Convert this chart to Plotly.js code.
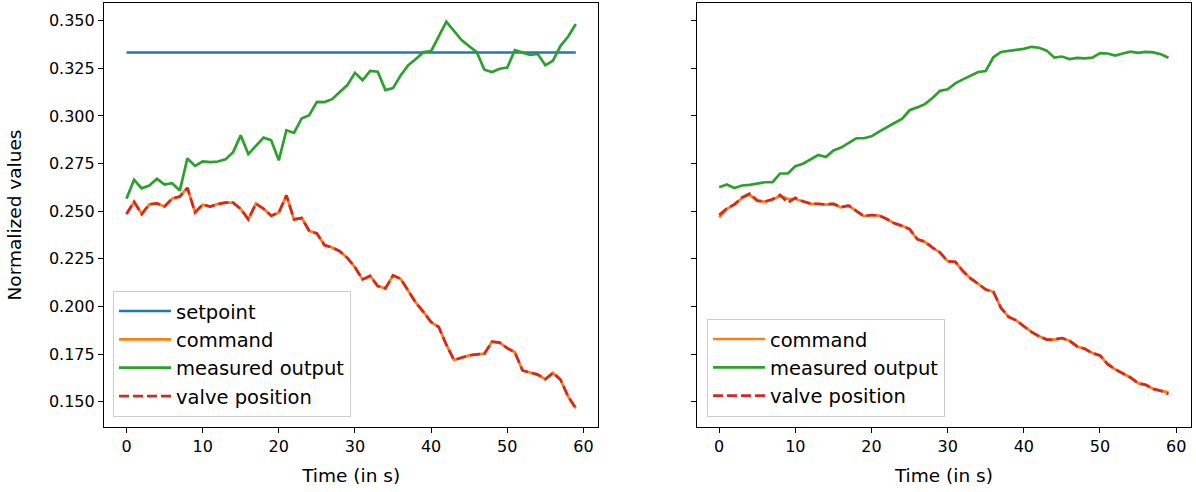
<!DOCTYPE html>
<html>
<head>
<meta charset="utf-8">
<script src="https://cdn.plot.ly/plotly-3.0.1.min.js"></script>
<style>html,body{margin:0;padding:0;background:#fff;}#chart{width:1196px;height:492px;}</style>
</head>
<body>
<div id="chart"></div>
<script>
const time = [0,1,2,3,4,5,6,7,8,9,10,11,12,13,14,15,16,17,18,19,20,21,22,23,24,25,26,27,28,29,30,31,32,33,34,35,36,37,38,39,40,41,42,43,44,45,46,47,48,49,50,51,52,53,54,55,56,57,58,59];

const setpointTime = [0, 59];
const setpointLeft = [0.3333, 0.3333];

const measuredLeft = [0.2566,0.2665,0.2620,0.2635,0.2670,0.2640,0.2647,0.2608,0.2777,0.2738,
  0.2761,0.2758,0.2761,0.2772,0.2810,0.2898,0.2800,0.2844,0.2886,0.2872,
  0.2767,0.2925,0.2911,0.2987,0.3004,0.3074,0.3073,0.3088,0.3123,0.3162,
  0.3226,0.3187,0.3236,0.3232,0.3136,0.3146,0.3213,0.3266,0.3299,0.3335,
  0.3340,0.3417,0.3495,0.3447,0.3398,0.3366,0.3335,0.3243,0.3231,0.3248,
  0.3254,0.3345,0.3335,0.3321,0.3326,0.3266,0.3290,0.3368,0.3417,0.3483];

const commandLeft = [0.2485,0.2549,0.2485,0.2536,0.2541,0.2525,0.2566,0.2577,0.2622,0.2494,
  0.2534,0.2524,0.2538,0.2545,0.2545,0.2512,0.2457,0.2540,0.2513,0.2476,
  0.2492,0.2583,0.2457,0.2464,0.2397,0.2383,0.2322,0.2309,0.2290,0.2255,
  0.2206,0.2142,0.2160,0.2107,0.2095,0.2163,0.2145,0.2081,0.2019,0.1971,
  0.1918,0.1892,0.1799,0.1719,0.1733,0.1743,0.1748,0.1752,0.1815,0.1810,
  0.1781,0.1759,0.1664,0.1653,0.1642,0.1618,0.1651,0.1615,0.1526,0.1465];

const valveLeft = [0.2485,0.2549,0.2485,0.2536,0.2541,0.2525,0.2566,0.2577,0.2622,0.2494,
  0.2534,0.2524,0.2538,0.2545,0.2545,0.2512,0.2457,0.2540,0.2513,0.2476,
  0.2492,0.2583,0.2457,0.2464,0.2397,0.2383,0.2322,0.2309,0.2290,0.2255,
  0.2206,0.2142,0.2160,0.2107,0.2095,0.2163,0.2145,0.2081,0.2019,0.1971,
  0.1918,0.1892,0.1799,0.1719,0.1733,0.1743,0.1748,0.1752,0.1815,0.1810,
  0.1781,0.1759,0.1664,0.1653,0.1642,0.1618,0.1651,0.1615,0.1526,0.1465];

const measuredRight = [0.2626,0.2640,0.2622,0.2635,0.2638,0.2645,0.2652,0.2652,0.2698,0.2698,
  0.2736,0.2749,0.2772,0.2795,0.2784,0.2819,0.2834,0.2858,0.2883,0.2883,
  0.2893,0.2918,0.2942,0.2963,0.2984,0.3030,0.3045,0.3062,0.3094,0.3132,
  0.3140,0.3171,0.3192,0.3210,0.3231,0.3236,0.3308,0.3336,0.3342,0.3349,
  0.3352,0.3363,0.3358,0.3343,0.3306,0.3312,0.3299,0.3305,0.3302,0.3306,
  0.3330,0.3328,0.3317,0.3328,0.3338,0.3331,0.3336,0.3334,0.3324,0.3306];

const commandRight = [0.2467,0.2512,0.2534,0.2570,0.2587,0.2554,0.2550,0.2561,0.2580,0.2565,
  0.2564,0.2550,0.2538,0.2538,0.2534,0.2538,0.2520,0.2529,0.2503,0.2474,
  0.2480,0.2477,0.2459,0.2436,0.2423,0.2406,0.2353,0.2340,0.2309,0.2283,
  0.2237,0.2234,0.2186,0.2147,0.2119,0.2089,0.2077,0.1992,0.1945,0.1927,
  0.1896,0.1866,0.1843,0.1826,0.1826,0.1834,0.1820,0.1790,0.1778,0.1755,
  0.1743,0.1697,0.1670,0.1650,0.1627,0.1597,0.1588,0.1567,0.1556,0.1549];

const valveRight = [0.2480,0.2515,0.2536,0.2572,0.2592,0.2556,0.2550,0.2563,0.2585,0.2545,
  0.2570,0.2552,0.2540,0.2538,0.2536,0.2538,0.2522,0.2529,0.2503,0.2474,
  0.2480,0.2477,0.2459,0.2436,0.2423,0.2406,0.2353,0.2340,0.2309,0.2283,
  0.2237,0.2234,0.2186,0.2147,0.2119,0.2089,0.2077,0.1992,0.1945,0.1927,
  0.1896,0.1866,0.1843,0.1826,0.1826,0.1834,0.1820,0.1790,0.1778,0.1755,
  0.1743,0.1697,0.1670,0.1650,0.1627,0.1597,0.1588,0.1567,0.1556,0.1540];

const yTicks = [0.150,0.175,0.200,0.225,0.250,0.275,0.300,0.325,0.350];
const yTickText = ["0.150","0.175","0.200","0.225","0.250","0.275","0.300","0.325","0.350"];
const xTicks = [0,10,20,30,40,50,60];

const C = {blue:'#1f77b4', orange:'#ff7f0e', green:'#2ca02c', red:'#d62728'};
const LW = 2.7;
const DASH = '10px,4px';

const traces = [
  {x: setpointTime, y: setpointLeft, name:'setpoint', mode:'lines', line:{color:C.blue,width:LW}, xaxis:'x', yaxis:'y', legend:'legend'},
  {x: time, y: commandLeft, name:'command', mode:'lines', line:{color:C.orange,width:LW}, xaxis:'x', yaxis:'y', legend:'legend'},
  {x: time, y: measuredLeft, name:'measured output', mode:'lines', line:{color:C.green,width:LW}, xaxis:'x', yaxis:'y', legend:'legend'},
  {x: time, y: valveLeft, name:'valve position', mode:'lines', line:{color:C.red,width:LW,dash:DASH}, xaxis:'x', yaxis:'y', legend:'legend'},
  {x: time, y: commandRight, name:'command', mode:'lines', line:{color:C.orange,width:LW}, xaxis:'x2', yaxis:'y2', legend:'legend2'},
  {x: time, y: measuredRight, name:'measured output', mode:'lines', line:{color:C.green,width:LW}, xaxis:'x2', yaxis:'y2', legend:'legend2'},
  {x: time, y: valveRight, name:'valve position', mode:'lines', line:{color:C.red,width:LW,dash:DASH}, xaxis:'x2', yaxis:'y2', legend:'legend2'}
];

const font = {family:'DejaVu Sans, sans-serif', size:16, color:'#000'};
const xBase = {
  range:[-2.95, 61.95], tickvals:xTicks, ticks:'outside', ticklen:5, tickwidth:1, tickcolor:'#000',
  showline:true, linecolor:'#000', linewidth:1.1, mirror:true, showgrid:false, zeroline:false,
  tickfont:{family:font.family, size:16, color:'#000'},
  title:{text:'Time (in s)', font:{family:font.family, size:18.5, color:'#000'}, standoff:13}
};
const yBase = {
  range:[0.1367, 0.3593], tickvals:yTicks, ticktext:yTickText, ticks:'outside', ticklen:5, tickwidth:1, tickcolor:'#000',
  showline:true, linecolor:'#000', linewidth:1.1, mirror:true, showgrid:false, zeroline:false,
  tickfont:{family:font.family, size:16, color:'#000'}
};
const legendBase = {
  font:{family:font.family, size:19.5, color:'#000'},
  bgcolor:'rgba(255,255,255,0.8)', bordercolor:'#cccccc', borderwidth:1,
  xanchor:'left', yanchor:'bottom', tracegroupgap:0, itemwidth:52
};

const layout = {
  width:1196, height:492,
  margin:{l:104, r:5, t:3, b:65},
  paper_bgcolor:'#fff', plot_bgcolor:'#fff',
  font: font,
  showlegend:true,
  xaxis: Object.assign({}, xBase, {domain:[0, 0.4547], anchor:'y'}),
  xaxis2: Object.assign({}, xBase, {domain:[0.5453, 1], anchor:'y2'}),
  yaxis: Object.assign({}, yBase, {anchor:'x', title:{text:'Normalized values', font:{family:font.family, size:18.5, color:'#000'}, standoff:22}}),
  yaxis2: Object.assign({}, yBase, {anchor:'x2', matches:'y', showticklabels:false}),
  legend: Object.assign({}, legendBase, {x:0.0083, y:0.024}),
  legend2: Object.assign({}, legendBase, {x:0.5547, y:0.024})
};

Plotly.newPlot('chart', traces, layout, {displayModeBar:false, staticPlot:true});
</script>
</body>
</html>
